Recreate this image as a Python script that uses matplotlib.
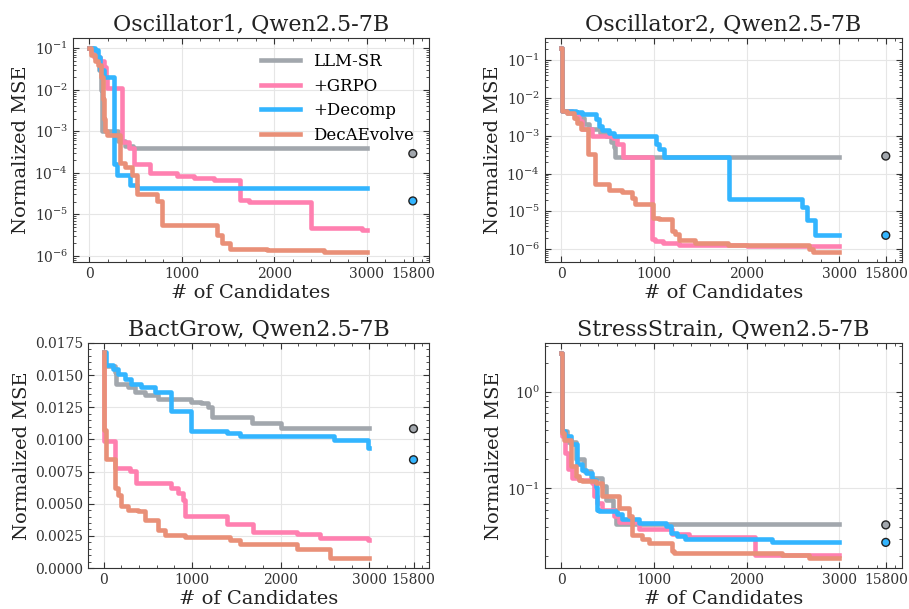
import matplotlib
matplotlib.use("Agg")
import matplotlib.pyplot as plt
from matplotlib.ticker import AutoMinorLocator, NullFormatter, LogLocator

plt.rcParams["font.family"] = ["DejaVu Serif"]
plt.rcParams["mathtext.fontset"] = "dejavuserif"
plt.rcParams["xtick.direction"] = "in"
plt.rcParams["ytick.direction"] = "in"
plt.rcParams["xtick.top"] = True
plt.rcParams["ytick.right"] = True

methods = ["LLM-SR", "+GRPO", "+Decomp", "DecAEvolve"]
colors = ["#a2a7ad", "#ff80b0", "#33b5ff", "#e99078"]
xticks = [0, 1000, 2000, 3000, 3500]
xticklabels = ["0", "1000", "2000", "3000", "15800"]
x_end = 3000
x_final = 3500  # position of the 15800 column

# ---- Oscillator1 ----
osc1_llmsr_x = [0, 40, 80, 110, 130, 137, 317, 390, 477]
osc1_llmsr_y = [0.1, 0.08, 0.05, 0.03, 0.01, 1.0e-3, 5.7e-4, 4.4e-4, 4.0e-4]
osc1_grpo_x = [0, 20, 50, 120, 160, 185, 195, 360, 426, 480, 661, 950, 1130, 1347, 1636, 1726, 2105, 2394, 2950]
osc1_grpo_y = [0.1, 0.08, 0.06, 0.05, 0.035, 0.02, 0.011, 5.5e-4, 3.9e-4, 1.6e-4, 1.0e-4, 8.5e-5, 7.5e-5, 6.7e-5,
               2.25e-5, 2.0e-5, 1.95e-5, 4.7e-6, 4.3e-6]
osc1_decomp_x = [0, 65, 90, 120, 155, 263, 300, 444, 520]
osc1_decomp_y = [0.1, 0.09, 0.06, 0.03, 0.02, 1.6e-4, 9e-5, 5.1e-5, 4.3e-5]
osc1_dec_x = [0, 20, 60, 100, 130, 150, 165, 173, 191, 329, 390, 462, 517, 733, 787, 1383, 1437, 1528, 1925, 2538]
osc1_dec_y = [0.1, 0.07, 0.05, 0.04, 0.02, 6e-3, 2e-3, 1e-3, 8.1e-4, 1.7e-4, 1.4e-4, 9e-5, 3e-5, 2.1e-5, 5.6e-6,
              3.1e-6, 2e-6, 1.5e-6, 1.35e-6, 1.25e-6]
osc1_final = [2.9e-4, 2.1e-5]

# ---- Oscillator2 ----
osc2_llmsr_x = [0, 5, 60, 150, 250, 300, 420, 480, 540, 570, 582]
osc2_llmsr_y = [0.21, 4.5e-3, 4e-3, 3e-3, 2e-3, 1.5e-3, 1.2e-3, 1e-3, 7e-4, 5e-4, 2.8e-4]
osc2_grpo_x = [0, 5, 119, 190, 227, 330, 560, 600, 665, 978, 1014, 1100, 1266, 2000]
osc2_grpo_y = [0.21, 4.5e-3, 4e-3, 2.5e-3, 1.5e-3, 1.0e-3, 9e-4, 6e-4, 2.8e-4, 1.8e-6, 1.6e-6, 1.4e-6, 1.25e-6, 1.2e-6]
osc2_decomp_x = [0, 5, 155, 227, 370, 406, 442, 514, 568, 1025, 1054, 1110, 1805, 2596, 2650, 2740]
osc2_decomp_y = [0.21, 4.5e-3, 4.2e-3, 3.7e-3, 2.8e-3, 1.8e-3, 1.4e-3, 1.2e-3, 1.0e-3, 6e-4, 4.5e-4, 2.8e-4,
                 2.1e-5, 1.3e-5, 6e-6, 2.3e-6]
osc2_dec_x = [0, 5, 60, 137, 173, 209, 285, 360, 511, 654, 760, 798, 990, 1050, 1194, 1230, 1266, 1445, 1800, 2668, 2720]
osc2_dec_y = [0.21, 4.5e-3, 4e-3, 3e-3, 2.2e-3, 1.5e-3, 3.3e-4, 5.3e-5, 3.7e-5, 3.2e-5, 2.2e-5, 1.6e-5, 6.8e-6,
              6.2e-6, 3e-6, 2.5e-6, 1.7e-6, 1.4e-6, 1.26e-6, 1e-6, 8.4e-7]
osc2_final = [2.9e-4, 2.3e-6]

# ---- BactGrow ----
bact_llmsr_x = [0, 8, 125, 143, 275, 351, 464, 615, 993, 1106, 1182, 1220, 1680, 2000]
bact_llmsr_y = [0.0168, 0.0157, 0.01525, 0.01433, 0.01407, 0.01368, 0.01347, 0.01316, 0.0129, 0.0128, 0.0125,
                0.01172, 0.0113, 0.0109]
bact_grpo_x = [0, 8, 125, 294, 370, 766, 842, 899, 917, 1389, 1691, 2182, 2446, 2990]
bact_grpo_y = [0.0168, 0.0099, 0.0078, 0.00753, 0.00662, 0.00623, 0.00583, 0.00531, 0.00405, 0.0034, 0.0028,
               0.00267, 0.00235, 0.00214]
bact_decomp_x = [0, 30, 106, 163, 238, 313, 426, 577, 766, 993, 1389, 1540, 2597, 2990]
bact_decomp_y = [0.0168, 0.01577, 0.0155, 0.01512, 0.01473, 0.01433, 0.01407, 0.01368, 0.01224, 0.01067, 0.01052,
                 0.01025, 0.00999, 0.00934]
bact_dec_x = [0, 8, 30, 125, 163, 200, 275, 389, 464, 615, 691, 917, 1427, 1540, 2182, 2559]
bact_dec_y = [0.0168, 0.0107, 0.00845, 0.00623, 0.0057, 0.00479, 0.00452, 0.0044, 0.00374, 0.00296, 0.00256,
              0.00243, 0.00214, 0.00188, 0.00149, 0.00078]
bact_final = [0.01083, 0.00842]

# ---- StressStrain ----
ss_llmsr_x = [0, 5, 60, 154, 250, 316, 442, 478, 560, 586]
ss_llmsr_y = [2.5, 0.39, 0.3, 0.2, 0.15, 0.128, 0.105, 0.076, 0.06, 0.0428]
ss_grpo_x = [0, 5, 36, 72, 119, 190, 334, 352, 388, 442, 568, 622, 834, 1194, 1374, 2086]
ss_grpo_y = [2.5, 0.345, 0.23, 0.157, 0.128, 0.123, 0.114, 0.083, 0.071, 0.06, 0.052, 0.0445, 0.0385, 0.0342,
             0.0316, 0.0205]
ss_decomp_x = [0, 5, 36, 101, 172, 227, 262, 334, 370, 388, 403, 604, 658, 838, 1125, 1180, 1250, 1338, 2272]
ss_decomp_y = [2.5, 0.39, 0.35, 0.29, 0.18, 0.156, 0.145, 0.123, 0.103, 0.06, 0.058, 0.054, 0.048, 0.044, 0.0405,
               0.035, 0.032, 0.0297, 0.0277]
ss_dec_x = [0, 5, 29, 101, 155, 190, 227, 370, 442, 622, 730, 766, 874, 946, 1197, 1212, 2380, 2668]
ss_dec_y = [2.5, 0.37, 0.32, 0.17, 0.133, 0.123, 0.118, 0.114, 0.0826, 0.063, 0.052, 0.033, 0.030, 0.0272, 0.0223,
            0.0214, 0.0205, 0.0192]
ss_final = [0.042, 0.0277]

panels = [
    ("Oscillator1, Qwen2.5-7B", "log",
     [(osc1_llmsr_x, osc1_llmsr_y), (osc1_grpo_x, osc1_grpo_y), (osc1_decomp_x, osc1_decomp_y), (osc1_dec_x, osc1_dec_y)],
     osc1_final, [73, 38, 429, 262]),
    ("Oscillator2, Qwen2.5-7B", "log",
     [(osc2_llmsr_x, osc2_llmsr_y), (osc2_grpo_x, osc2_grpo_y), (osc2_decomp_x, osc2_decomp_y), (osc2_dec_x, osc2_dec_y)],
     osc2_final, [545, 38, 902, 262]),
    ("BactGrow, Qwen2.5-7B", "linear",
     [(bact_llmsr_x, bact_llmsr_y), (bact_grpo_x, bact_grpo_y), (bact_decomp_x, bact_decomp_y), (bact_dec_x, bact_dec_y)],
     bact_final, [88, 343, 429, 568]),
    ("StressStrain, Qwen2.5-7B", "log",
     [(ss_llmsr_x, ss_llmsr_y), (ss_grpo_x, ss_grpo_y), (ss_decomp_x, ss_decomp_y), (ss_dec_x, ss_dec_y)],
     ss_final, [545, 343, 902, 568]),
]

W, H = 909, 609
fig = plt.figure(figsize=(W / 100, H / 100), dpi=100)

for i, (title, scale, series, final, box) in enumerate(panels):
    l, t, r, b = box
    ax = fig.add_axes([l / W, (H - b) / H, (r - l) / W, (b - t) / H])
    for (xs, ys), name, c in zip(series, methods, colors):
        ax.step(list(xs) + [x_end], list(ys) + [ys[-1]], where="post", color=c, lw=3.3, label=name)
    ax.scatter([x_final, x_final], final, s=32, c=[colors[0], colors[2]], edgecolors="#222222",
               linewidths=1.0, zorder=5)
    ax.set_yscale(scale)
    ax.set_xlim(-175, 3675)
    if scale == "linear":
        ax.set_ylim(0, 0.0175)
        ax.set_yticks([0, 0.0025, 0.005, 0.0075, 0.01, 0.0125, 0.015, 0.0175])
        ax.yaxis.set_minor_locator(AutoMinorLocator())
    else:
        ax.yaxis.set_minor_locator(LogLocator(subs=range(2, 10)))
        ax.yaxis.set_minor_formatter(NullFormatter())
    ax.set_xticks(xticks)
    ax.set_xticklabels(xticklabels)
    ax.xaxis.set_minor_locator(AutoMinorLocator())
    ax.tick_params(which="major", labelsize=10, length=4, colors="#333333")
    ax.tick_params(which="minor", length=2, colors="#333333")
    ax.grid(True, which="major", color="#e6e6e6", lw=0.8)
    ax.set_axisbelow(True)
    for s in ax.spines.values():
        s.set_color("#333333")
    ax.set_title(title, fontsize=16, color="#222222", pad=5)
    ax.set_xlabel("# of Candidates", fontsize=14, color="#222222", labelpad=2)
    ax.set_ylabel("Normalized MSE", fontsize=14, color="#222222", labelpad=3)
    if i == 0:
        ax.legend(loc="upper right", frameon=False, fontsize=12, handlelength=2.3,
                  bbox_to_anchor=(1.0, 1.0), labelspacing=0.45)

fig.savefig("out.png", dpi=100)
